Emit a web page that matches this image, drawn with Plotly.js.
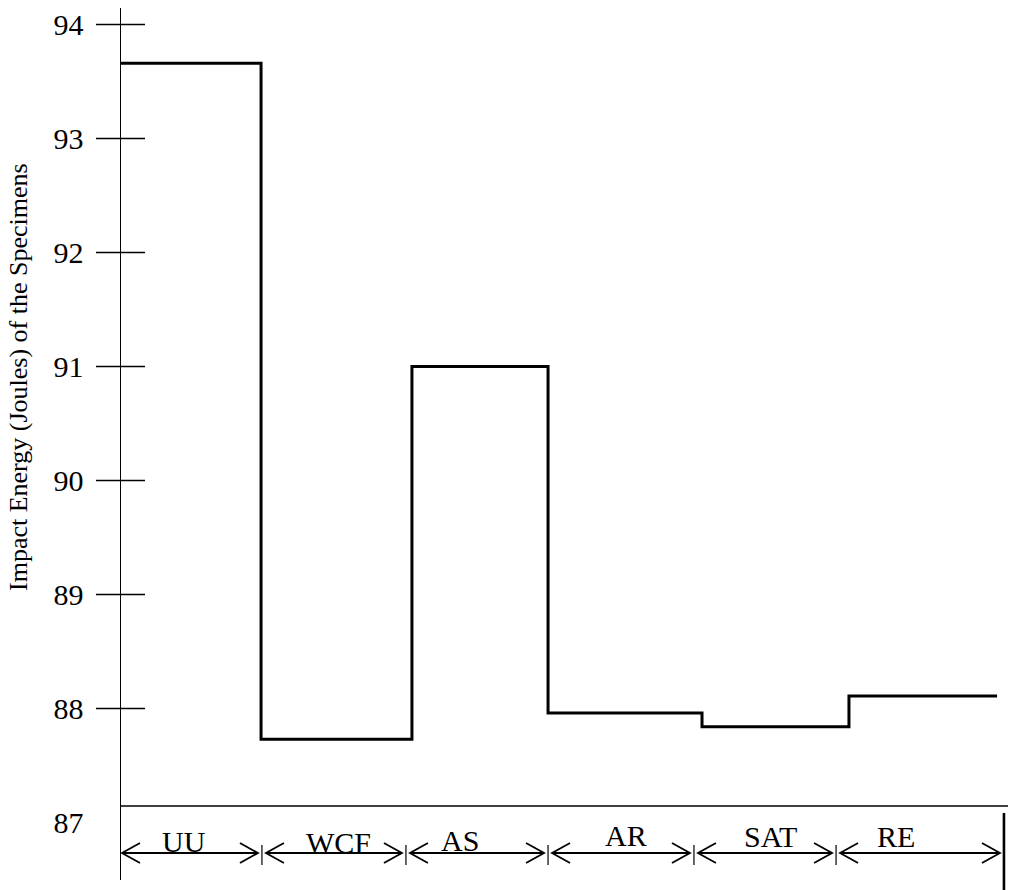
<!DOCTYPE html>
<html>
<head>
<meta charset="utf-8">
<script src="https://cdn.plot.ly/plotly-3.0.1.min.js"></script>
<style>html,body{margin:0;padding:0;background:#fff;}#chart{width:1010px;height:890px;}</style>
</head>
<body>
<div id="chart"></div>
<script>
// ---- data ----
const categories = ['UU', 'WCF', 'AS', 'AR', 'SAT', 'RE'];
const impactEnergy = [93.66, 87.73, 91.0, 87.96, 87.84, 88.11];
// extent of each treatment's plateau along the x axis (category units)
const stepEdges = [0, 0.956, 1.986, 2.915, 3.966, 4.969, 5.980];
// extent of each treatment's bracket under the axis (category units)
const bracketEdges = [0, 0.962, 1.945, 2.915, 3.911, 4.881, 6.027];
const tickValues = [87, 88, 89, 90, 91, 92, 93, 94];
const tickLabels = ['87', '88', '89', '90', '91', '92', '93', '94'];
const yTitle = 'Impact Energy (Joules) of the Specimens';

// ---- layout constants ----
const FW = 1010, FH = 890;
const M = {l: 121, r: 2, t: 8, b: 10};
const W = FW - M.l - M.r, H = FH - M.t - M.b;
const X_UNIT = 146.5;              // px per category unit
const Y_RANGE = [86.495, 94.144];
const BASE_Y = 87.144;             // level of the horizontal base line
const FONT = 'Liberation Serif, Times New Roman, serif';
const ARROW_PY = 853, ARROW_GAP = 4, HEAD_L = 18, HEAD_H = 10;
const labelShift = [-6, 5, -17, 5, 5, -24];
const labelPy = [841, 842, 840, 835, 836, 836];

const px = xpx => (xpx - M.l) / W;             // pixel -> paper x
const py = ypx => (M.t + H - ypx) / H;          // pixel -> paper y
const unitPx = u => M.l + u * X_UNIT;           // category unit -> pixel x

const stepY = impactEnergy.concat([impactEnergy[impactEnergy.length - 1]]);

const trace = {
  x: stepEdges, y: stepY, type: 'scatter', mode: 'lines',
  line: {shape: 'hv', color: '#000', width: 3}, hoverinfo: 'skip'
};

const shapes = [];
const blk = (w) => ({color: '#000', width: w});
// base line
shapes.push({type: 'line', xref: 'paper', yref: 'y', x0: 0, x1: 1, y0: BASE_Y, y1: BASE_Y, line: blk(1.7)});
// cross ticks
tickValues.slice(1).forEach(v => {
  shapes.push({type: 'line', xref: 'paper', yref: 'y', x0: px(96), x1: px(145), y0: v, y1: v, line: blk(1.5)});
});
// brackets
const annotations = [];
categories.forEach((c, i) => {
  const a = unitPx(bracketEdges[i]) + (i === 0 ? 1 : ARROW_GAP);
  const b = unitPx(bracketEdges[i + 1]) - ARROW_GAP;
  const y = ARROW_PY;
  shapes.push({type: 'line', xref: 'paper', yref: 'paper', x0: px(a), x1: px(b), y0: py(y), y1: py(y), line: blk(1.8)});
  shapes.push({type: 'path', xref: 'paper', yref: 'paper',
    path: `M ${px(a + HEAD_L)} ${py(y - HEAD_H)} L ${px(a)} ${py(y)} L ${px(a + HEAD_L)} ${py(y + HEAD_H)}`, line: blk(1.8)});
  shapes.push({type: 'path', xref: 'paper', yref: 'paper',
    path: `M ${px(b - HEAD_L)} ${py(y - HEAD_H)} L ${px(b)} ${py(y)} L ${px(b - HEAD_L)} ${py(y + HEAD_H)}`, line: blk(1.8)});
  annotations.push({xref: 'paper', yref: 'paper', x: px((a + b) / 2 + labelShift[i]), y: py(labelPy[i]),
    xanchor: 'center', yanchor: 'middle', text: c, showarrow: false,
    font: {family: FONT, size: 30, color: '#000'}});
});
// separators between brackets
bracketEdges.slice(1, -1).forEach(e => {
  const x = unitPx(e);
  shapes.push({type: 'line', xref: 'paper', yref: 'paper', x0: px(x), x1: px(x), y0: py(845), y1: py(865), line: blk(1.2)});
});
// closing line at right end
const xe = unitPx(bracketEdges[bracketEdges.length - 1]);
shapes.push({type: 'line', xref: 'paper', yref: 'paper', x0: px(xe), x1: px(xe), y0: py(813), y1: py(892), line: blk(2.6)});

annotations.push({xref: 'paper', yref: 'paper', x: px(18), y: py(377), xanchor: 'center', yanchor: 'middle',
  textangle: -90, text: yTitle, showarrow: false, font: {family: FONT, size: 26, color: '#000'}});

const layout = {
  width: FW, height: FH, margin: M, showlegend: false,
  paper_bgcolor: '#fff', plot_bgcolor: '#fff',
  xaxis: {range: [0, W / X_UNIT], showline: false, showgrid: false, zeroline: false,
          showticklabels: false, ticks: '', fixedrange: true},
  yaxis: {range: Y_RANGE, showline: true, linecolor: '#000', linewidth: 1.5, mirror: false,
          showgrid: false, zeroline: false, tickmode: 'array', tickvals: tickValues, ticktext: tickLabels,
          ticks: 'outside', ticklen: 30, tickcolor: 'rgba(0,0,0,0)',
          tickfont: {family: FONT, size: 30, color: '#000'}, fixedrange: true},
  shapes: shapes, annotations: annotations
};

Plotly.newPlot('chart', [trace], layout, {displayModeBar: false, staticPlot: true});
</script>
</body>
</html>
